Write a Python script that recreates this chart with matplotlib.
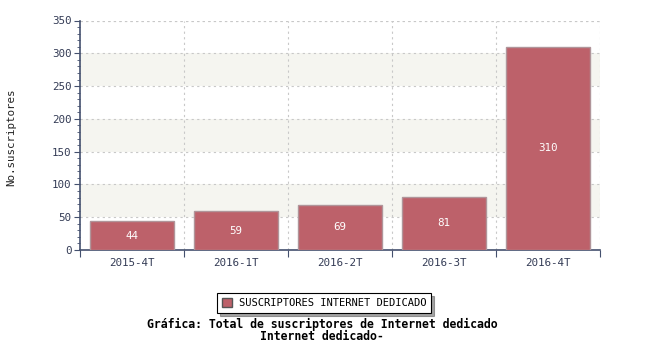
import matplotlib
matplotlib.use("Agg")
import matplotlib.pyplot as plt
from matplotlib.ticker import MultipleLocator
import matplotlib.patches as mpatches

categories = ["2015-4T", "2016-1T", "2016-2T", "2016-3T", "2016-4T"]
values = [44, 59, 69, 81, 310]
series_name = "SUSCRIPTORES INTERNET DEDICADO"
title_lines = ["Gráfica: Total de suscriptores de Internet dedicado", "Internet dedicado-"]
ylabel = "No.suscriptores"

mono = "DejaVu Sans Mono"
axis_col = "#44506e"
bar_col = "#bd616a"

fig = plt.figure(figsize=(6.5, 3.5), dpi=100)
ax = fig.add_axes([80/650, 1-250/350, 520/650, 229.5/350])

ymax = 350
# alternating bands
for lo in range(50, ymax, 100):
    ax.axhspan(lo, lo+50, color="#f5f5f0", zorder=0, lw=0)

x = list(range(len(categories)))
bars = ax.bar(x, values, width=0.81, color=bar_col, edgecolor="#b0959a", linewidth=1, zorder=3)
for xi, v in zip(x, values):
    ax.text(xi, v/2, str(v), color="white", ha="center", va="center", fontsize=7.8, family=mono, zorder=4)

ax.set_xlim(-0.5, len(categories)-0.5)
ax.set_ylim(0, ymax)

ax.yaxis.set_major_locator(MultipleLocator(50))
ax.yaxis.set_minor_locator(MultipleLocator(10))
ax.set_xticks([i-0.5 for i in range(len(categories)+1)])
ax.set_xticklabels([])
ax.set_xticks(x, minor=True)
ax.set_xticklabels(categories, minor=True)
ax.tick_params(axis="x", which="minor", length=0, pad=6, labelsize=7.8, labelcolor="#333b55")
ax.tick_params(axis="x", which="major", length=5, color=axis_col, direction="out")
ax.tick_params(axis="y", which="major", length=4, color=axis_col, labelsize=7.8, labelcolor="#333b55", pad=2)
ax.tick_params(axis="y", which="minor", length=2, color=axis_col)
for lab in ax.get_xticklabels(minor=True) + ax.get_yticklabels():
    lab.set_family(mono)

ax.grid(True, axis="y", which="major", linestyle=(0, (2, 3)), color="#c8c8c8", lw=0.8, zorder=1)
for i in range(1, len(categories)+1):
    ax.axvline(i-0.5, linestyle=(0, (2, 3)), color="#c8c8c8", lw=0.8, zorder=1)
ax.axhline(ymax, linestyle=(0, (2, 3)), color="#c8c8c8", lw=0.8, zorder=1)

for s in ["top", "right"]:
    ax.spines[s].set_visible(False)
for s in ["left", "bottom"]:
    ax.spines[s].set_color(axis_col)
    ax.spines[s].set_linewidth(1.2)

fig.text(11/650, 1-137/350, ylabel, rotation=90, ha="center", va="center", fontsize=7.8, family=mono, color="#222")

handle = mpatches.Patch(facecolor=bar_col, edgecolor="#555", label=series_name)
leg = fig.legend(handles=[handle], loc="center", bbox_to_anchor=(324/650, 1-303/350), frameon=True,
                 fancybox=False, shadow=True, prop={"family": mono, "size": 7.5},
                 handlelength=1.0, handleheight=1.0, borderpad=0.45, handletextpad=0.6)
leg.get_frame().set_edgecolor("#000")
leg.get_frame().set_linewidth(0.8)

fig.text(322/650, 1-324/350, title_lines[0], ha="center", va="center", fontsize=8.3, family=mono, weight="bold")
fig.text(322/650, 1-337/350, title_lines[1], ha="center", va="center", fontsize=8.3, family=mono, weight="bold")

fig.savefig("out.png", dpi=100)
